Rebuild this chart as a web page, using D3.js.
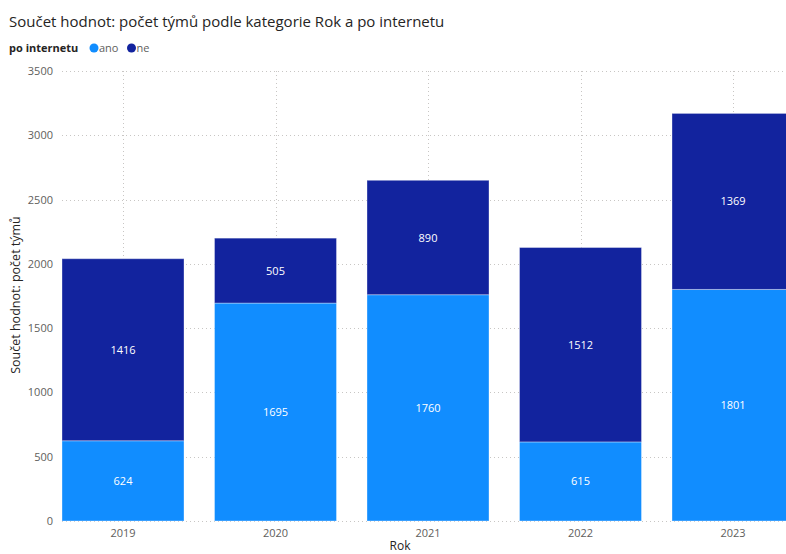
<!DOCTYPE html>
<html>
<head>
<meta charset="utf-8">
<script src="https://cdn.jsdelivr.net/npm/d3@7"></script>
<style>
  body { margin: 0; background: #fff; }
  svg { display: block; font-family: "Open Sans", "Noto Sans", sans-serif; }
</style>
</head>
<body>
<div id="chart"></div>
<script>
// data
const years = ['2019', '2020', '2021', '2022', '2023'];
const ano = [624, 1695, 1760, 615, 1801];
const ne = [1416, 505, 890, 1512, 1369];
const yTicks = [0, 500, 1000, 1500, 2000, 2500, 3000, 3500];

const seriesKeys = ['ano', 'ne'];
const colors = { ano: '#118DFF', ne: '#12239E' };

const W = 786, H = 554;
const rows = years.map((y, i) => ({ year: y, ano: ano[i], ne: ne[i] }));

const svg = d3.select('#chart').append('svg')
  .attr('width', W).attr('height', H);

// scales
const x = d3.scaleBand().domain(years)
  .range([46.75, 809.25])
  .paddingInner(0.2).paddingOuter(0.1);
const y = d3.scaleLinear().domain([0, 3500]).range([521, 71]);

// gridlines
const grid = svg.append('g');
grid.selectAll('.hg').data(yTicks).join('line')
  .attr('x1', 62).attr('x2', W)
  .attr('y1', d => Math.round(y(d)) + 0.5).attr('y2', d => Math.round(y(d)) + 0.5)
  .attr('stroke', '#C8C6C4').attr('stroke-width', 1)
  .attr('stroke-dasharray', '1,3');
grid.selectAll('.vg').data(years).join('line')
  .attr('x1', d => Math.round(x(d) + x.bandwidth() / 2) + 0.5)
  .attr('x2', d => Math.round(x(d) + x.bandwidth() / 2) + 0.5)
  .attr('y1', y(3500)).attr('y2', y(0))
  .attr('stroke', '#C8C6C4').attr('stroke-width', 1)
  .attr('stroke-dasharray', '1,3');

// stacked bars
const stacked = d3.stack().keys(seriesKeys)(rows);
const layers = svg.append('g').selectAll('g').data(stacked).join('g')
  .attr('fill', d => colors[d.key]);
layers.selectAll('rect').data(d => d).join('rect')
  .attr('x', d => x(d.data.year))
  .attr('width', x.bandwidth())
  .attr('y', d => y(d[1]))
  .attr('height', d => y(d[0]) - y(d[1]))
  .attr('stroke', 'rgba(255,255,255,0.35)')
  .attr('stroke-width', 1);

// data labels
stacked.forEach(s => {
  svg.append('g').selectAll('text').data(s).join('text')
    .attr('x', d => x(d.data.year) + x.bandwidth() / 2)
    .attr('y', d => (y(d[0]) + y(d[1])) / 2 + 4)
    .attr('text-anchor', 'middle')
    .attr('font-size', 11)
    .attr('fill', '#fff')
    .text(d => d[1] - d[0]);
});

// y axis tick labels
svg.append('g').selectAll('text').data(yTicks).join('text')
  .attr('x', 53).attr('y', d => y(d) + 4)
  .attr('text-anchor', 'end')
  .attr('font-size', 11).attr('fill', '#605E5C')
  .text(d => d);

// x axis tick labels
svg.append('g').selectAll('text').data(years).join('text')
  .attr('x', d => x(d) + x.bandwidth() / 2).attr('y', 537)
  .attr('text-anchor', 'middle')
  .attr('font-size', 11).attr('fill', '#605E5C')
  .text(d => d);

// axis titles
svg.append('text')
  .attr('x', 400).attr('y', 550)
  .attr('text-anchor', 'middle')
  .attr('font-size', 12).attr('fill', '#252423')
  .text('Rok');
svg.append('text')
  .attr('transform', 'translate(20,295) rotate(-90)')
  .attr('text-anchor', 'middle')
  .attr('font-size', 12.5).attr('fill', '#252423')
  .text('Součet hodnot: počet týmů');

// title
svg.append('text')
  .attr('x', 9).attr('y', 27)
  .attr('font-size', 15).attr('fill', '#252423')
  .text('Součet hodnot: počet týmů podle kategorie Rok a po internetu');

// legend
const lg = svg.append('g').attr('transform', 'translate(9,52)');
lg.append('text').attr('x', 0).attr('y', 0)
  .attr('font-size', 11).attr('font-weight', 'bold').attr('fill', '#252423')
  .text('po internetu');
let lx = 85;
seriesKeys.forEach(k => {
  lg.append('circle').attr('cx', lx).attr('cy', -4).attr('r', 4.5).attr('fill', colors[k]);
  const t = lg.append('text').attr('x', lx + 5).attr('y', 0)
    .attr('font-size', 11).attr('fill', '#605E5C').text(k);
  lx += 5 + t.node().getComputedTextLength() + 13;
});
</script>
</body>
</html>
